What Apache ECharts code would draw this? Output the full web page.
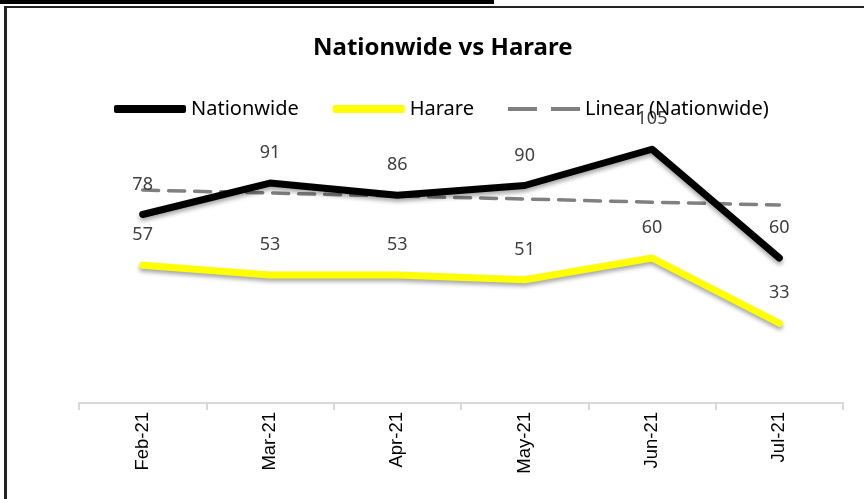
<!DOCTYPE html>
<html>
<head>
    <meta charset="utf-8">
    <title>Nationwide vs Harare</title>
    <script src="https://cdn.jsdelivr.net/npm/echarts@6/dist/echarts.min.js"></script>
</head>
<body style="margin:0;background:#fff">
    <div id="main" style="width:864px;height:499px;"></div>
    <script type="text/javascript">
        var months = ['Feb-21', 'Mar-21', 'Apr-21', 'May-21', 'Jun-21', 'Jul-21'];
        var nationwide = [78, 91, 86, 90, 105, 60];
        var harare = [57, 53, 53, 51, 60, 33];
        // Excel linear trendline
        var trendNationwide = [88.1, 86.9, 85.6, 84.4, 83.1, 81.9];

        var txtFont = "'Noto Sans', sans-serif";
        var myChart = echarts.init(document.getElementById('main'));
        var option = {
            backgroundColor: '#ffffff',
            animation: false,
            title: {
                text: 'Nationwide vs Harare',
                left: 308,
                top: 31,
                textStyle: { fontFamily: txtFont, fontWeight: 'bold', fontSize: 24, color: '#000' }
            },
            legend: {
                top: 94,
                left: 109,
                itemWidth: 72,
                itemHeight: 8,
                itemGap: 34,
                textStyle: { fontFamily: txtFont, fontSize: 20, color: '#000' },
                data: [
                    { name: 'Nationwide', icon: 'roundRect', itemStyle: { color: '#000' } },
                    { name: 'Harare', icon: 'roundRect', itemStyle: { color: '#ffff00' } },
                    { name: 'Linear (Nationwide)', icon: 'path://M0,0h29v4h-29zM43,0h29v4h-29z', itemStyle: { color: '#808080' } }
                ]
            },
            grid: { left: 79, right: 21, top: 113, bottom: 96 },
            xAxis: {
                type: 'category',
                data: months,
                axisLine: { lineStyle: { color: '#d9d9d9', width: 2 } },
                axisTick: { show: true, length: 7, lineStyle: { color: '#d9d9d9', width: 2 } },
                axisLabel: {
                    rotate: 90, margin: 9, color: '#000',
                    fontFamily: "'Liberation Sans', Arial, sans-serif", fontSize: 18.5
                },
                splitLine: { show: false }
            },
            yAxis: { type: 'value', min: 0, max: 120, show: false },
            series: [
                {
                    name: 'Nationwide', type: 'line', data: nationwide, z: 3,
                    symbol: 'circle', symbolSize: 2,
                    itemStyle: { color: '#000' },
                    lineStyle: { color: '#000', width: 7, cap: 'round', join: 'round',
                        shadowColor: 'rgba(0,0,0,0.35)', shadowBlur: 4, shadowOffsetY: 3 },
                    label: { show: true, position: 'top', distance: 20, color: '#404040',
                        fontFamily: txtFont, fontSize: 18 }
                },
                {
                    name: 'Harare', type: 'line', data: harare, z: 2,
                    symbol: 'circle', symbolSize: 2,
                    itemStyle: { color: '#ffff00' },
                    lineStyle: { color: '#ffff00', width: 7, cap: 'round', join: 'round',
                        shadowColor: 'rgba(0,0,0,0.35)', shadowBlur: 4, shadowOffsetY: 3 },
                    label: { show: true, position: 'top', distance: 20, color: '#404040',
                        fontFamily: txtFont, fontSize: 18 }
                },
                {
                    name: 'Linear (Nationwide)', type: 'line', data: trendNationwide, z: 2,
                    symbol: 'none',
                    itemStyle: { color: '#808080' },
                    lineStyle: { color: '#808080', width: 3.5, type: [16, 10], cap: 'round' }
                }
            ],
            graphic: [
                { type: 'rect', shape: { x: 0, y: 0, width: 494, height: 4 }, style: { fill: '#000' } },
                { type: 'rect', shape: { x: 4, y: 6, width: 860, height: 2 }, style: { fill: '#222' } },
                { type: 'rect', shape: { x: 4, y: 6, width: 3, height: 493 }, style: { fill: '#222' } }
            ]
        };
        myChart.setOption(option);
    </script>
</body>
</html>
